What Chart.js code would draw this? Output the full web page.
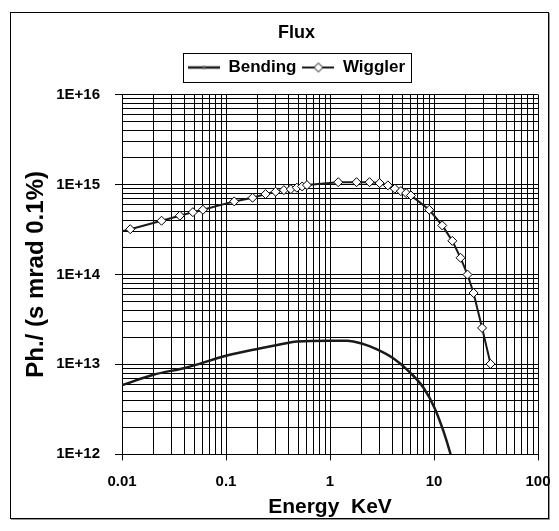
<!DOCTYPE html>
<html>
<head>
<meta charset="utf-8">
<script src="https://cdn.jsdelivr.net/npm/chart.js@4/dist/chart.umd.min.js"></script>
<style>
  html, body { margin: 0; padding: 0; background: #fff; }
  #frame {
    position: absolute; left: 10px; top: 12px;
    width: 539px; height: 507px;
    box-sizing: border-box;
    border: 1px solid #000;
    box-shadow: 1px 1px 0 #999;
  }
  #fluxChart { position: absolute; left: 0; top: 0; display: block; }
</style>
</head>
<body>
<div id="frame"></div>
<canvas id="fluxChart" width="559" height="531"></canvas>
<script>
// values
const wigglerEnergy = [0.006, 0.012, 0.024, 0.036, 0.048, 0.06, 0.12, 0.18, 0.24, 0.30, 0.36, 0.42, 0.48, 0.54, 0.60,
                       1.2, 1.8, 2.4, 3.0, 3.6, 4.2, 4.8, 5.4, 6.0, 9.0, 12, 15, 18, 21, 24, 29, 35];
const wigglerFlux = [2.6e14, 3.18e14, 3.95e14, 4.49e14, 4.92e14, 5.23e14, 6.48e14, 7.12e14, 7.81e14, 8.30e14, 8.65e14, 8.87e14, 9.2e14, 9.5e14, 9.84e14,
                     1.06e15, 1.06e15, 1.06e15, 1.035e15, 9.76e14, 8.97e14, 8.43e14, 8.01e14, 7.55e14, 5.23e14, 3.50e14, 2.36e14, 1.53e14, 9.95e13, 6.22e13, 2.54e13, 1.01e13];

const bendingEnergy = [0.01, 0.02, 0.042, 0.1, 0.21, 0.31, 0.48, 1.0, 1.45, 2.1, 2.8, 4.06, 5.9, 7.9, 10.1, 12.3, 14.3, 14.6];
const bendingFlux = [5.87e12, 7.65e12, 9.23e12, 1.245e13, 1.50e13, 1.64e13, 1.80e13, 1.83e13, 1.83e13, 1.68e13, 1.48e13, 1.17e13, 8.1e12, 5.52e12, 3.30e12, 1.82e12, 1.04e12, 9.5e11];

// labelled decades on each axis
const xDecades = [0.01, 0.1, 1, 10, 100];
const yDecades = [1e12, 1e13, 1e14, 1e15, 1e16];

Chart.defaults.font.family = "'Liberation Sans', Arial, sans-serif";
Chart.defaults.color = '#000';

function isDecade(v) {
    const lg = Math.log10(v);
    return Math.abs(lg - Math.round(lg)) < 1e-9;
}

// 1..9 x 10^n ticks between the first and last decade
function logTicks(decades) {
    const out = [];
    for (let i = 0; i < decades.length - 1; i++) {
        for (let k = 1; k < 10; k++) {
            out.push({ value: Number((k * decades[i]).toPrecision(12)) });
        }
    }
    out.push({ value: decades[decades.length - 1] });
    return out;
}

// small pictures for the legend: line with its marker
function legendIcon(diamond) {
    const c = document.createElement('canvas');
    c.width = 32; c.height = 12;
    const g = c.getContext('2d');
    g.strokeStyle = '#1a1a1a';
    g.lineWidth = diamond ? 2 : 2.5;
    g.beginPath(); g.moveTo(0, 6); g.lineTo(32, 6); g.stroke();
    if (diamond) {
        g.fillStyle = '#fff'; g.strokeStyle = '#000'; g.lineWidth = 1;
        g.beginPath(); g.moveTo(16, 1.5); g.lineTo(20.5, 6); g.lineTo(16, 10.5); g.lineTo(11.5, 6); g.closePath();
        g.fill(); g.stroke();
    } else {
        g.fillStyle = '#555';
        g.fillRect(14.5, 4.5, 3, 3);
    }
    return c;
}
const legendIcons = [legendIcon(false), legendIcon(true)];

// frame round the legend items
const legendFrame = {
    id: 'legendFrame',
    afterDraw(chart) {
        const lg = chart.legend;
        if (!lg || !lg.legendHitBoxes || !lg.legendHitBoxes.length) return;
        const hb = lg.legendHitBoxes;
        const l = Math.min(...hb.map(b => b.left)) - 5;
        const r = Math.max(...hb.map(b => b.left + b.width)) + 6;
        const t = Math.min(...hb.map(b => b.top)) - 6;
        const btm = Math.max(...hb.map(b => b.top + b.height)) + 6;
        const ctx = chart.ctx;
        ctx.save();
        ctx.strokeStyle = '#000';
        ctx.lineWidth = 1;
        ctx.strokeRect(Math.round(l) + 0.5, Math.round(t) + 0.5, Math.round(r - l), Math.round(btm - t));
        ctx.restore();
    }
};

const gridOpts = {
    color: '#000',
    lineWidth: 1,
    tickLength: 6,
    tickColor: (ctx) => (ctx.tick && isDecade(ctx.tick.value)) ? '#000' : 'rgba(0,0,0,0)'
};

new Chart(document.getElementById('fluxChart'), {
    type: 'line',
    data: {
        datasets: [
            {
                label: 'Bending',
                data: bendingEnergy.map((e, i) => ({ x: e, y: bendingFlux[i] })),
                borderColor: '#1a1a1a',
                borderWidth: 2.5,
                pointRadius: 0,
                cubicInterpolationMode: 'monotone'
            },
            {
                label: 'Wiggler',
                data: wigglerEnergy.map((e, i) => ({ x: e, y: wigglerFlux[i] })),
                borderColor: '#1a1a1a',
                borderWidth: 2,
                tension: 0,
                pointStyle: 'rectRot',
                pointRadius: 4.5,
                pointBackgroundColor: '#fff',
                pointBorderColor: '#000',
                pointBorderWidth: 1
            }
        ]
    },
    options: {
        responsive: false,
        animation: false,
        layout: { padding: { left: 55, right: 21, top: 13, bottom: 13 } },
        plugins: {
            title: {
                display: true,
                text: 'Flux',
                font: { size: 18, weight: 'bold', lineHeight: 1.2 },
                padding: { top: 9.2, bottom: 9.2 }
            },
            legend: {
                display: true,
                position: 'top',
                labels: {
                    usePointStyle: true,
                    pointStyleWidth: 32,
                    padding: 6,
                    font: { size: 17, weight: 'bold' },
                    generateLabels: (chart) => chart.data.datasets.map((ds, i) => ({
                        text: ds.label,
                        pointStyle: legendIcons[i],
                        datasetIndex: i,
                        hidden: false,
                        fillStyle: '#fff',
                        strokeStyle: '#000',
                        lineWidth: 0,
                        fontColor: '#000'
                    }))
                }
            },
            // empty subtitle used as a gap between legend and plot
            subtitle: {
                display: true,
                text: '',
                weight: 500,
                font: { size: 1, lineHeight: 1 },
                padding: { top: 0, bottom: 7.5 }
            },
            tooltip: { enabled: false }
        },
        scales: {
            x: {
                type: 'logarithmic',
                min: xDecades[0],
                max: xDecades[xDecades.length - 1],
                afterBuildTicks: (scale) => { scale.ticks = logTicks(xDecades); },
                afterFit: (scale) => { scale.height = 63.7; scale.paddingLeft = 0; scale.paddingRight = 0; },
                grid: gridOpts,
                border: { display: true, color: '#000', width: 1 },
                ticks: {
                    autoSkip: false,
                    maxRotation: 0,
                    padding: 13,
                    font: { size: 15, weight: 'bold' },
                    callback: (v) => isDecade(v) ? String(xDecades.find(d => Math.abs(d - v) < d * 1e-6)) : ''
                },
                title: {
                    display: true,
                    text: 'Energy  KeV',
                    font: { size: 21, weight: 'bold', lineHeight: 1 },
                    padding: { top: 0, bottom: 0 }
                }
            },
            y: {
                type: 'logarithmic',
                min: yDecades[0],
                max: yDecades[yDecades.length - 1],
                afterBuildTicks: (scale) => { scale.ticks = logTicks(yDecades); },
                afterFit: (scale) => { scale.width = 67; scale.paddingTop = 0; scale.paddingBottom = 0; },
                grid: Object.assign({}, gridOpts, { tickLength: 7 }),
                border: { display: true, color: '#000', width: 1 },
                ticks: {
                    autoSkip: false,
                    padding: 15,
                    font: { size: 15, weight: 'bold' },
                    callback: (v) => isDecade(v) ? '1E+' + Math.round(Math.log10(v)) : ''
                },
                title: {
                    display: true,
                    text: 'Ph./ (s mrad 0.1%)',
                    font: { size: 24, weight: 'bold', lineHeight: 1 },
                    padding: { top: -31, bottom: 0 }
                }
            }
        }
    },
    plugins: [legendFrame]
});
</script>
</body>
</html>
